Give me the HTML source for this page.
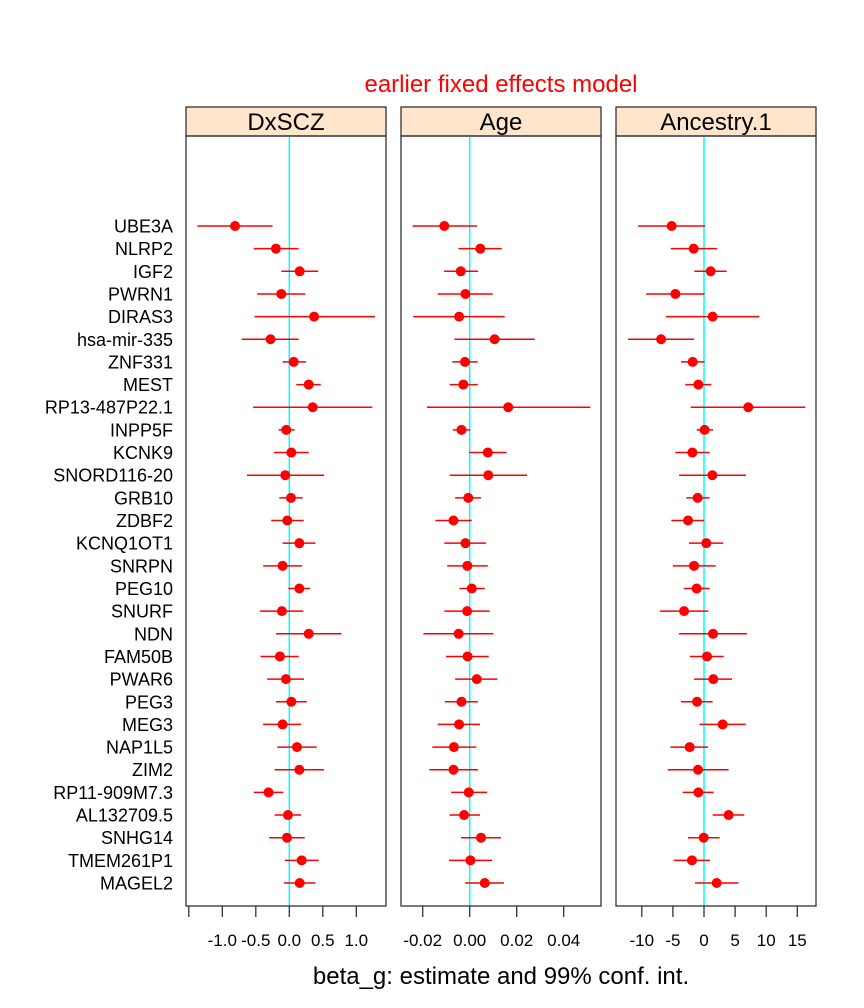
<!DOCTYPE html>
<html><head><meta charset="utf-8">
<style>
html,body{margin:0;padding:0;background:#fff;}
svg{display:block;font-family:"Liberation Sans",Arial,sans-serif;}
</style></head>
<body>
<svg id="chart" width="864" height="1008" viewBox="0 0 864 1008">
<rect width="864" height="1008" fill="#fff"/>
<text x="501" y="92" text-anchor="middle" font-size="24" fill="#ff0000">earlier fixed effects model</text>
<text x="501" y="984" text-anchor="middle" font-size="24" fill="#000">beta_g: estimate and 99% conf. int.</text>
</svg>
<script>
const genes = ["UBE3A","NLRP2","IGF2","PWRN1","DIRAS3","hsa-mir-335","ZNF331","MEST","RP13-487P22.1","INPP5F","KCNK9","SNORD116-20","GRB10","ZDBF2","KCNQ1OT1","SNRPN","PEG10","SNURF","NDN","FAM50B","PWAR6","PEG3","MEG3","NAP1L5","ZIM2","RP11-909M7.3","AL132709.5","SNHG14","TMEM261P1","MAGEL2"];
const panelNames = ["DxSCZ","Age","Ancestry.1"];
const dxEst = [-0.81,-0.20,0.155,-0.12,0.37,-0.28,0.065,0.29,0.35,-0.045,0.03,-0.06,0.025,-0.03,0.15,-0.10,0.15,-0.11,0.29,-0.14,-0.05,0.03,-0.10,0.115,0.15,-0.31,-0.02,-0.035,0.185,0.155];
const dxLo = [-1.37,-0.53,-0.12,-0.48,-0.52,-0.71,-0.10,0.105,-0.54,-0.16,-0.23,-0.63,-0.15,-0.27,-0.10,-0.39,-0.015,-0.44,-0.20,-0.43,-0.33,-0.20,-0.39,-0.18,-0.22,-0.53,-0.22,-0.30,-0.065,-0.08];
const dxHi = [-0.25,0.14,0.43,0.24,1.28,0.14,0.25,0.47,1.24,0.08,0.29,0.52,0.20,0.215,0.39,0.19,0.31,0.21,0.78,0.14,0.22,0.26,0.175,0.41,0.52,-0.09,0.175,0.23,0.44,0.39];
const ageEst = [-0.0108,0.0045,-0.0038,-0.0018,-0.0045,0.0106,-0.0020,-0.0027,0.0164,-0.0035,0.0077,0.0079,-0.0006,-0.0069,-0.0018,-0.0010,0.0009,-0.0011,-0.0047,-0.0009,0.0030,-0.0035,-0.0045,-0.0067,-0.0069,-0.0004,-0.0024,0.0048,0.0003,0.0064];
const ageLo = [-0.0243,-0.0048,-0.0109,-0.0136,-0.0240,-0.0065,-0.0074,-0.0085,-0.0182,-0.0072,-0.0003,-0.0085,-0.0062,-0.0146,-0.0108,-0.0096,-0.0044,-0.0108,-0.0197,-0.0101,-0.0062,-0.0106,-0.0136,-0.0159,-0.0172,-0.0079,-0.0086,-0.0037,-0.0088,-0.0020];
const ageHi = [0.0031,0.0136,0.0035,0.0098,0.0149,0.0277,0.0034,0.0034,0.0513,0.0003,0.0157,0.0244,0.0048,0.0009,0.0069,0.0077,0.0064,0.0085,0.0101,0.0081,0.0118,0.0035,0.0044,0.0028,0.0035,0.0074,0.0044,0.0133,0.0095,0.0146];
const ancEst = [-5.2,-1.66,1.07,-4.6,1.39,-6.9,-1.82,-0.91,7.12,0.1,-1.87,1.34,-1.02,-2.57,0.37,-1.6,-1.18,-3.2,1.45,0.48,1.5,-1.12,3.0,-2.3,-0.96,-0.91,3.96,-0.05,-1.93,2.04];
const ancLo = [-10.6,-5.36,-1.55,-9.3,-6.1,-12.2,-3.7,-3.0,-2.14,-1.18,-4.6,-4.0,-2.84,-5.25,-2.41,-5.0,-3.27,-7.1,-4.0,-2.25,-1.6,-3.7,-0.75,-5.4,-5.84,-3.43,1.39,-2.57,-4.87,-1.45];
const ancHi = [0.2,2.09,3.64,0.1,8.9,-1.6,0.1,1.18,16.3,1.45,0.91,6.75,0.91,0.05,3.1,1.87,0.91,0.7,6.9,3.16,4.5,1.39,6.7,0.64,3.96,1.55,6.48,2.52,0.96,5.52];
const dxTicks = [-1.5,-1.0,-0.5,0.0,0.5,1.0];
const dxTickLabels = ["","-1.0","-0.5","0.0","0.5","1.0"];
const ageTicks = [-0.02,0.00,0.02,0.04];
const ageTickLabels = ["-0.02","0.00","0.02","0.04"];
const ancTicks = [-10,-5,0,5,10,15];
const ancTickLabels = ["-10","-5","0","5","10","15"];

const NS="http://www.w3.org/2000/svg";
const svg=document.getElementById('chart');
function mk(tag,attrs,parent){const e=document.createElementNS(NS,tag);for(const k in attrs)e.setAttribute(k,attrs[k]);(parent||svg).appendChild(e);return e;}
const pTop=136, pBottom=906, stripTop=107;
const y0=226, dy=(883-226)/29;
function yPos(i){return y0+i*dy;}
const panels=[
 {left:186,right:386,zero:289.3,scale:67,est:dxEst,lo:dxLo,hi:dxHi,ticks:dxTicks,tl:dxTickLabels},
 {left:401,right:601,zero:469.7,scale:2350,est:ageEst,lo:ageLo,hi:ageHi,ticks:ageTicks,tl:ageTickLabels},
 {left:616,right:816,zero:704,scale:6.22,est:ancEst,lo:ancLo,hi:ancHi,ticks:ancTicks,tl:ancTickLabels}
];
genes.forEach((g,i)=>{
 const t=mk('text',{x:173,y:yPos(i)+6.5,'text-anchor':'end','font-size':18,fill:'#000'});
 
 
 t.textContent=g;
});
panels.forEach((p,pi)=>{
 const x=v=>p.zero+v*p.scale;
 const g=mk('g',{});
 
 
 const strip=mk('rect',{x:p.left,y:stripTop,width:p.right-p.left,height:pTop-stripTop,fill:'#ffe5cc',stroke:'#333','stroke-width':1.3},g);
 
 
 const st=mk('text',{x:(p.left+p.right)/2,y:stripTop+23,'text-anchor':'middle','font-size':24,fill:'#000'},g);
 
 
 st.textContent=panelNames[pi];
 mk('line',{x1:x(0),x2:x(0),y1:pTop,y2:pBottom,stroke:'#00ffff','stroke-width':1.5},g);
 p.est.forEach((v,i)=>{
  const yy=yPos(i);
  const ln=mk('line',{x1:x(p.lo[i]),x2:x(p.hi[i]),y1:yy,y2:yy,stroke:'#ff0000','stroke-width':1.5},g);
  
  
  const c=mk('circle',{cx:x(v),cy:yy,r:5,fill:'#ff0000'},g);
  
  
 });
 const fr=mk('rect',{x:p.left,y:pTop,width:p.right-p.left,height:pBottom-pTop,fill:'none',stroke:'#333','stroke-width':1.3},g);
 
 
 p.ticks.forEach((tv,ti)=>{
  const tx=x(tv);
  mk('line',{x1:tx,x2:tx,y1:pBottom,y2:pBottom+11,stroke:'#333','stroke-width':1.3},g);
  const lab=mk('text',{x:tx,y:pBottom+40,'text-anchor':'middle','font-size':17,fill:'#000'},g);
  
  
  lab.textContent=p.tl[ti];
 });
});
</script>
</body></html>
